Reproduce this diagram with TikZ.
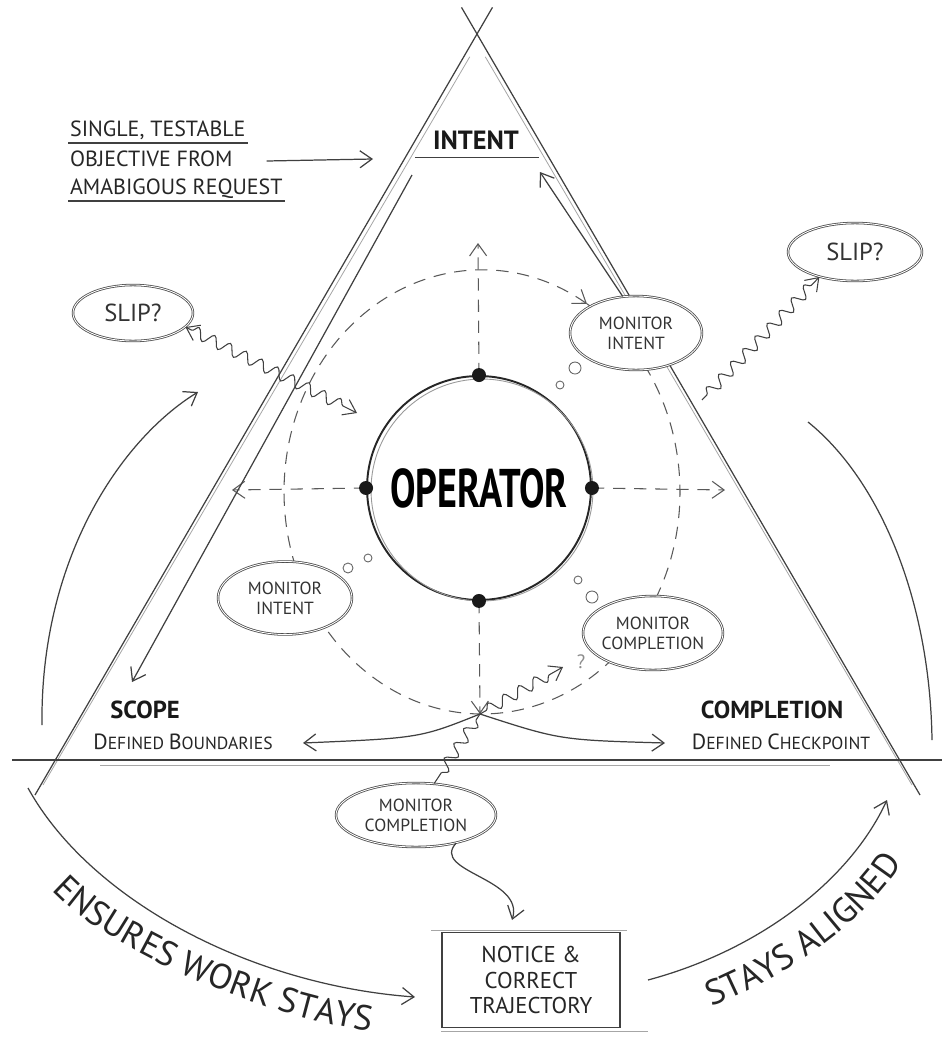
\documentclass[tikz,border=0pt]{standalone}
\usepackage{fontspec}
\setmainfont{PT Sans}
\newfontfamily\opfont[FakeStretch=0.7]{PT Sans}
\usetikzlibrary{arrows.meta,shapes.geometric,decorations.pathmorphing,decorations.text,calc}
\newcommand{\initcap}[1]{{\fontsize{12.5}{14}\selectfont #1}}
\tikzset{
  pencil/.style={draw=black!75, line width=0.7pt},
  faint/.style={draw=black!35, line width=0.45pt},
  bubble/.style={ellipse, draw=black!70, double=white, double distance=0.5pt, line width=0.45pt,
    fill=white, inner sep=0pt, inner xsep=-2pt, align=center, text=black!80,
    font=\fontsize{10}{11.5}\selectfont},
  slipbubble/.style={bubble, font=\fontsize{14}{16}\selectfont},
  dashring/.style={draw=black!65, dash pattern=on 7pt off 5pt, line width=0.6pt},
  wavy/.style={draw=black!75, line width=0.6pt, decorate,
    decoration={snake, amplitude=3.2pt, segment length=10pt, pre length=4pt, post length=4pt}},
  thought/.style={draw=black!60, line width=0.5pt, fill=white},
  caps/.style={text=black!85, inner sep=1pt, text height=0.75em, text depth=0.25em,
    font=\fontsize{12.5}{14}\selectfont},
  head/.style={text=black!90, font=\fontsize{14}{16}\selectfont\bfseries},
  sub/.style={text=black!85, font=\fontsize{10}{12}\selectfont},
  >={Straight Barb[length=2.4mm,width=3.4mm]}
}
\begin{document}
\begin{tikzpicture}[x=0.02cm,y=0.02cm]
\fill[white] (0,0) rectangle (942,-1045);
\useasboundingbox (0,0) rectangle (942,-1045);

% triangle and base
\coordinate (apex) at (477,-34);
\coordinate (baseL) at (35,-795);
\coordinate (baseR) at (920,-795);
\draw[pencil] (baseL) -- ($(baseL)!1.035!(apex)$);
\draw[pencil] (baseR) -- ($(baseR)!1.035!(apex)$);
\draw[faint] ($(baseL)+(8,10)$) -- ($(baseL)!0.97!(apex)+(6,0)$);
\draw[faint] ($(baseR)+(-8,10)$) -- ($(baseR)!0.97!(apex)+(-5,0)$);
\draw[pencil, line width=1pt] (12,-760) -- (942,-760);
\draw[faint] (100,-765) -- (830,-765);

% dashed ring and spokes
\coordinate (ring) at (482,-492);
\draw[dashring,->] ([shift={(58:3.96cm and 4.44cm)}]ring)
  arc[start angle=418, end angle=58, x radius=3.96cm, y radius=4.44cm];
\coordinate (upTip) at (478,-243);
\coordinate (leftTip) at (232,-490);
\coordinate (rightTip) at (725,-490);
\coordinate (hub) at (480,-714);

\node[circle, draw=black!85, line width=1.1pt, minimum size=4.48cm, inner sep=0pt,
  font=\opfont\fontsize{31}{31}\selectfont\bfseries] (op) at (479,-488) {OPERATOR};
\draw[black!40, line width=0.5pt] ($(op.center)+(3,-2)$) circle (2.22cm);
\draw[dashring,->] (op.north) -- (upTip);
\draw[dashring,->] (op.west) -- (leftTip);
\draw[dashring,->] (op.east) -- (rightTip);
\draw[dashring,->] (op.south) -- (hub);
\foreach \a in {north,south,east,west} \fill[black!90] (op.\a) circle (0.14cm);

% labels
\node[caps, anchor=west] (obj1) at (68,-132) {SINGLE, TESTABLE};
\node[caps, anchor=west] (obj2) at (68,-162) {OBJECTIVE FROM};
\node[caps, anchor=west] (obj3) at (68,-190) {AMABIGOUS REQUEST};
\draw[pencil] (obj1.south west) -- (obj1.south east);
\draw[pencil] (obj3.south west) -- (obj3.south east);
\coordinate (objTip) at (373,-159);
\draw[pencil,->] ($(obj2.east)+(32,1)$) -- (objTip);

\node[head, font=\fontsize{15}{17}\selectfont\bfseries] (intent) at (476,-140) {INTENT};
\draw[pencil] ($(intent.south west)+(-12,-2)$) -- ($(intent.south east)+(14,-2)$);

\node[head] (scope) at (145,-710) {SCOPE};
\node[sub] (scopeSub) at (183,-742) {\initcap{D}EFINED \initcap{B}OUNDARIES};
\node[head] (compl) at (772,-710) {COMPLETION};
\node[sub] (complSub) at (781,-742) {\initcap{D}EFINED \initcap{C}HECKPOINT};

% inner edge arrows
\coordinate (leftStart) at (412,-175);
\coordinate (scopeIn) at (132,-682);
\draw[pencil,->] (leftStart) -- (scopeIn);

% outer arcs
\coordinate (arcA1) at (42,-725);
\coordinate (arcA2) at (198,-392);
\draw[pencil,->] (arcA1) .. controls (40,-560) and (120,-440) .. (arcA2);
\coordinate (arcB1) at (808,-422);
\coordinate (arcB2) at (932,-740);
\draw[pencil] (arcB1) .. controls (880,-480) and (930,-600) .. (arcB2);
\coordinate (arcC1) at (28,-788);
\coordinate (arcC2) at (415,-997);
\draw[pencil,->] (arcC1) .. controls (90,-900) and (250,-985) .. (arcC2);
\coordinate (arcD1) at (648,-980);
\coordinate (arcD2) at (887,-800);
\draw[pencil,->] (arcD1) .. controls (760,-950) and (850,-880) .. (arcD2);

\path[decorate, decoration={text along path, text align=center, text color=black!85,
  text={|\fontsize{20}{24}\selectfont|ENSURES WORK STAYS}}]
  (42,-878) .. controls (82,-938) and (262,-1022) .. (387,-1033);
\path[decorate, decoration={text along path, text align=center, text color=black!85,
  text={|\fontsize{20}{24}\selectfont|STAYS ALIGNED}}]
  (693,-1013) .. controls (760,-993) and (870,-928) .. (912,-846);

% bubbles
\node[slipbubble, minimum width=2.4cm, minimum height=1.12cm] (slipL) at (133,-313) {SLIP?};
\node[slipbubble, minimum width=2.68cm, minimum height=1.16cm] (slipR) at (855,-252) {SLIP?};
\node[bubble, minimum width=2.64cm, minimum height=1.48cm] (monIntR) at (636,-333) {MONITOR\\INTENT};
\node[bubble, minimum width=2.68cm, minimum height=1.46cm] (monIntL) at (285,-598) {MONITOR\\INTENT};
\node[bubble, minimum width=2.8cm, minimum height=1.48cm] (monCompR) at (653,-633) {MONITOR\\COMPLETION};
\node[bubble, minimum width=3.2cm, minimum height=1.28cm] (monCompB) at (416,-815) {MONITOR\\COMPLETION};

\draw[thought] (575,-368) circle (0.12cm);
\draw[thought] (560,-385) circle (0.08cm);
\draw[thought] (348,-568) circle (0.1cm);
\draw[thought] (368,-558) circle (0.08cm);
\draw[thought] (578,-580) circle (0.08cm);
\draw[thought] (592,-597) circle (0.12cm);

\coordinate (intentIn) at (540,-172);
\draw[pencil,->] (monIntR.110) -- (intentIn);

% slips and corrections
\coordinate (slipHit) at (357,-413);
\draw[wavy,<->] (slipL.-15) -- (slipHit);
\coordinate (slipRFoot) at (702,-400);
\draw[wavy,->] (slipRFoot) -- (slipR.215);
\coordinate (compTip) at (563,-667);
\draw[wavy,->] (hub) -- (compTip);
\node[text=black!45, font=\fontsize{11}{12}\selectfont] (qmark) at (581,-662) {?};
\draw[wavy] (hub) -- (monCompB.60);

\coordinate (scopeTip) at (303,-743);
\coordinate (complTip) at (665,-743);
\draw[pencil,->] (hub) .. controls (420,-738) .. (scopeTip);
\draw[pencil,->] (hub) .. controls (560,-740) .. (complTip);

\node[draw=black!75, line width=0.6pt, minimum width=3.56cm, minimum height=1.9cm, align=center,
  text=black!85, font=\fontsize{13}{14.5}\selectfont] (notice) at (531,-980) {NOTICE \&\\CORRECT\\TRAJECTORY};
\draw[faint] ($(notice.north west)+(-10,2)$) -- ($(notice.north east)+(6,2)$);
\draw[faint] ($(notice.south west)+(0,-3)$) -- ($(notice.south east)+(27,-3)$);
\coordinate (noticeIn) at (512,-920);
\draw[pencil,->] (monCompB.-35) .. controls (430,-872) and (525,-878) .. (noticeIn);
\end{tikzpicture}
\end{document}
